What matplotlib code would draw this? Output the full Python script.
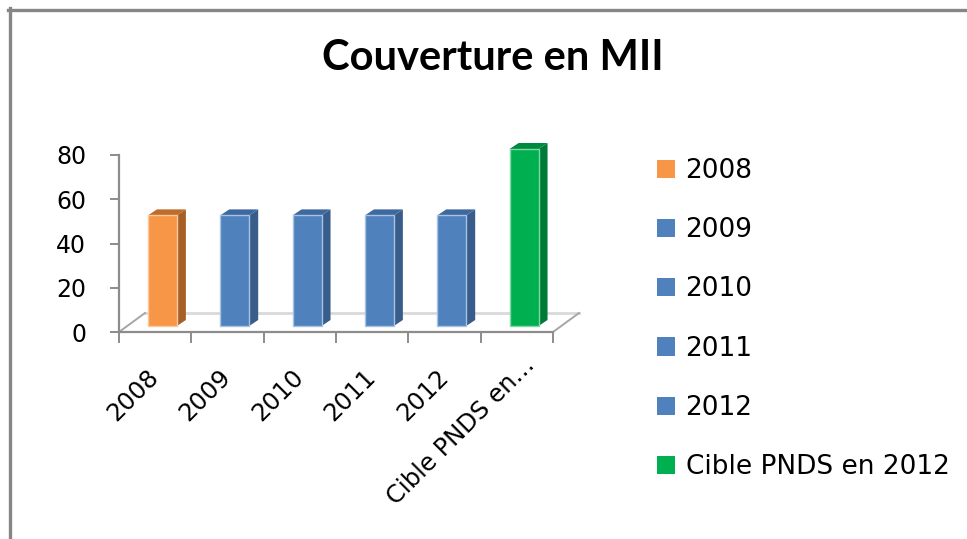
#!/usr/bin/env python3
"""Couverture en MII - pseudo-3D column chart (Excel style)."""

import matplotlib
matplotlib.use("Agg")
import matplotlib.pyplot as plt
import matplotlib.transforms as mtransforms
from matplotlib.lines import Line2D
from matplotlib.patches import Patch, Polygon

categories = ["2008", "2009", "2010", "2011", "2012", "Cible PNDS en 2012"]
tick_labels = ["2008", "2009", "2010", "2011", "2012", "Cible PNDS en\u2026"]
values = [50, 50, 50, 50, 50, 80]
y_ticks = [0, 20, 40, 60, 80]

# front / side / top colours per bar
front_colors = ["#F79646", "#4F81BD", "#4F81BD", "#4F81BD", "#4F81BD", "#00B050"]
side_colors = ["#A65F25", "#385D8A", "#385D8A", "#385D8A", "#385D8A", "#007A37"]
top_colors = ["#BD6C2C", "#3E69A0", "#3E69A0", "#3E69A0", "#3E69A0", "#008A3E"]
edge_colors = ["#FBC9A0", "#A9C1E2", "#A9C1E2", "#A9C1E2", "#A9C1E2", "#7FD8A6"]

W, H = 967, 539
fig = plt.figure(figsize=(W / 100, H / 100), dpi=100)

# plot area in pixels (value 0 at y=332, value 80 at y=155)
x0, x1, y0, y1 = 119, 553, 332, 155
ax = fig.add_axes([x0 / W, 1 - y0 / H, (x1 - x0) / W, (y0 - y1) / H])
n = len(values)
ax.set_xlim(0, n)
ax.set_ylim(0, 80)
for s in ["top", "right"]:
    ax.spines[s].set_visible(False)
for s in ["left", "bottom"]:
    ax.spines[s].set_color("#8C8C8C")
    ax.spines[s].set_linewidth(1.6)

# depth of the 3D effect (data units)
px_x = n / (x1 - x0)
px_y = 80 / (y0 - y1)
floor_dx, floor_dy = 26 * px_x, 19 * px_y
bar_dx, bar_dy = 9 * px_x, 6 * px_y
bar_left, bar_w, bar_base = 0.4, 0.4, 6 * px_y

# floor outline
ax.plot([floor_dx, n + floor_dx], [floor_dy, floor_dy], color="#D9D9D9", lw=2, clip_on=False, zorder=1)
ax.plot([0, floor_dx], [0, floor_dy], color="#A6A6A6", lw=1.4, clip_on=False, zorder=1)
ax.plot([n, n + floor_dx], [0, floor_dy], color="#A6A6A6", lw=1.4, clip_on=False, zorder=1)

for i, v in enumerate(values):
    l = i + bar_left
    r = l + bar_w
    b = bar_base
    t = bar_base + v
    ax.add_patch(Polygon([(r, b), (r + bar_dx, b + bar_dy), (r + bar_dx, t + bar_dy), (r, t)],
                         closed=True, facecolor=side_colors[i], edgecolor="none", clip_on=False, zorder=3))
    ax.add_patch(Polygon([(l, t), (r, t), (r + bar_dx, t + bar_dy), (l + bar_dx, t + bar_dy)],
                         closed=True, facecolor=top_colors[i], edgecolor="none", clip_on=False, zorder=3))
    ax.bar(l, v, width=bar_w, bottom=b, align="edge", color=front_colors[i],
           edgecolor=edge_colors[i], linewidth=1, clip_on=False, zorder=4)

# y axis
ax.set_yticks(y_ticks)
ax.set_yticklabels([str(t) for t in y_ticks])
ax.tick_params(axis="y", direction="out", length=6.5, width=1.4, color="#8C8C8C",
               pad=17, labelsize=17)

# x axis: tick marks at boundaries, labels at centres
ax.set_xticks(range(n + 1))
ax.set_xticklabels([])
ax.set_xticks([i + 0.5 for i in range(n)], minor=True)
ax.set_xticklabels(tick_labels, minor=True, rotation=45, ha="right", va="center",
                   rotation_mode="anchor", fontsize=17.5)
ax.tick_params(axis="x", which="major", direction="out", length=8, width=1.4, color="#8C8C8C")
ax.tick_params(axis="x", which="minor", length=0, pad=30)
last = ax.get_xticklabels(minor=True)[-1]
last.set_transform(last.get_transform() + mtransforms.ScaledTranslation(0.14, 0.12, fig.dpi_scale_trans))

# title
fig.text(0.51, 1 - 58 / H, "Couverture en MII", ha="center", va="center",
         fontsize=30, family="Lato", weight="bold")

# legend
handles = [Patch(facecolor=c, edgecolor="none") for c in front_colors]
fig.legend(handles, categories, loc="upper left", bbox_to_anchor=(657 / W, 1 - 158 / H),
           frameon=False, fontsize=19, handlelength=0.68, handleheight=0.68,
           handletextpad=0.4, labelspacing=1.26, borderpad=0, borderaxespad=0)

# chart border (left and top edges visible)
fig.add_artist(Line2D([8 / W, 1], [1 - 9.5 / H, 1 - 9.5 / H], transform=fig.transFigure, color="#868686", lw=2.4))
fig.add_artist(Line2D([9.5 / W, 9.5 / W], [0, 1 - 8 / H], transform=fig.transFigure, color="#868686", lw=2.4))

fig.savefig("out.png", dpi=100)
